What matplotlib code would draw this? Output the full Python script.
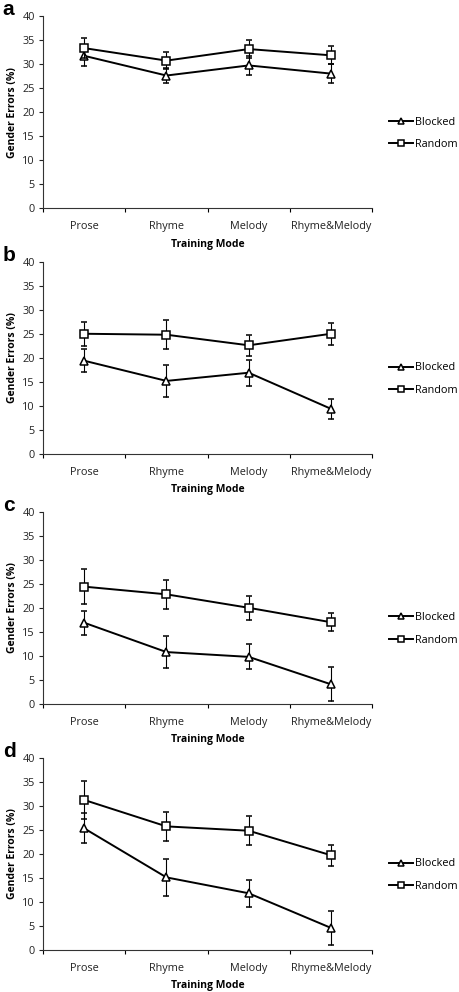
import matplotlib
matplotlib.use('Agg')
import matplotlib.pyplot as plt
from matplotlib.lines import Line2D
import numpy as np

plt.rcParams['font.family'] = ['Open Sans', 'DejaVu Sans']

modes = ['Prose', 'Rhyme', 'Melody', 'Rhyme&Melody']
panels = ['a', 'b', 'c', 'd']

# mean gender errors (%) and error bars per panel
blocked = [
    [31.7, 27.6, 29.7, 28.0],
    [19.4, 15.2, 16.9, 9.4],
    [16.9, 10.8, 9.8, 4.1],
    [25.3, 15.1, 11.8, 4.6],
]
blocked_err = [
    [2.1, 1.6, 1.9, 2.0],
    [2.4, 3.3, 2.7, 2.1],
    [2.5, 3.3, 2.6, 3.5],
    [3.1, 3.9, 2.8, 3.6],
]
random_ = [
    [33.3, 30.7, 33.1, 31.8],
    [25.0, 24.8, 22.6, 25.0],
    [24.4, 22.8, 20.0, 17.0],
    [31.2, 25.7, 24.8, 19.7],
]
random_err = [
    [2.0, 1.7, 1.8, 1.9],
    [2.5, 3.0, 2.2, 2.3],
    [3.7, 3.0, 2.5, 1.9],
    [4.0, 3.0, 3.0, 2.2],
]

fig = plt.figure(figsize=(4.59, 9.92), dpi=100)

# axes bottoms (fraction) for each panel
bottoms = [0.790, 0.5423, 0.2903, 0.0423]
x = np.arange(len(modes))
fs = 7.8

for i in range(4):
    ax = fig.add_axes([0.0937, bottoms[i], 0.717, 0.1940])
    ax.errorbar(x, blocked[i], yerr=blocked_err[i], color='black', lw=1.4,
                marker='^', ms=6, mfc='white', mec='black', mew=1.1,
                capsize=2.5, elinewidth=0.8, capthick=0.8, zorder=3)
    ax.errorbar(x, random_[i], yerr=random_err[i], color='black', lw=1.4,
                marker='s', ms=5.5, mfc='white', mec='black', mew=1.1,
                capsize=2.5, elinewidth=0.8, capthick=0.8, zorder=4)
    ax.set_xlim(-0.5, 3.5)
    ax.set_ylim(0, 40)
    ax.set_yticks(range(0, 41, 5))
    ax.set_xticks(x)
    ax.set_xticklabels(modes)
    ax.set_xticks(np.arange(-0.5, 4, 1), minor=True)
    ax.tick_params(axis='x', which='major', length=0, pad=9, labelsize=fs, colors='#222222')
    ax.tick_params(axis='x', which='minor', length=3, width=0.8, direction='out')
    ax.tick_params(axis='y', length=3, width=0.8, labelsize=fs, pad=3, colors='#222222')
    for s in ['top', 'right']:
        ax.spines[s].set_visible(False)
    for s in ['left', 'bottom']:
        ax.spines[s].set_linewidth(0.8)
        ax.spines[s].set_color('#333333')
    ax.set_xlabel('Training Mode', fontsize=7.5, fontweight='bold', labelpad=5)
    ax.set_ylabel('Gender Errors (%)', fontsize=7.5, fontweight='bold', labelpad=3)
    handles = [
        Line2D([], [], color='black', lw=1.4, marker='^', ms=5, mfc='white', mec='black', mew=1.1),
        Line2D([], [], color='black', lw=1.4, marker='s', ms=5, mfc='white', mec='black', mew=1.1),
    ]
    ax.legend(handles, ['Blocked', 'Random'], loc='center left',
              bbox_to_anchor=(1.05, 0.39), frameon=False,
              fontsize=fs, handlelength=2.3, handletextpad=0.15, labelspacing=1.05,
              borderaxespad=0, borderpad=0)
    fig.text(0.006, bottoms[i] + 0.1940 + 0.006, panels[i], fontsize=15,
             fontweight='bold', family='Liberation Sans', va='center', ha='left')

fig.savefig('out.png', dpi=100)
